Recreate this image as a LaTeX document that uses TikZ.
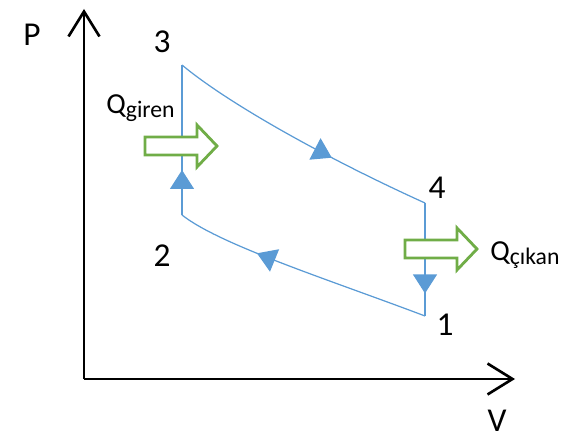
\documentclass[tikz,border=0pt]{standalone}
\usepackage{fontspec}
\setmainfont{Carlito}
\usetikzlibrary{arrows.meta,decorations.markings}
\definecolor{qblue}{RGB}{91,155,213}
\definecolor{qgreen}{RGB}{112,173,71}
\newcommand{\Qs}[1]{{\fontsize{16.5}{18}\selectfont Q}\raisebox{-0.08cm}{\fontsize{13.5}{15}\selectfont #1}}

\begin{document}
\begin{tikzpicture}[x=0.02cm,y=-0.02cm,
 ax/.style={line width=1.5pt,-{Straight Barb[length=0.5cm,width=0.62cm]}},
 cyc/.style={qblue,line width=0.7pt},
 mk/.style={postaction={decorate},decoration={markings,
   mark=at position #1 with {\arrow{Triangle[length=0.38cm,width=0.48cm]}}}},
 lbl/.style={inner sep=0pt,font=\fontsize{19}{22}\selectfont},
 heat/.style={draw=qgreen,line width=1.6pt,fill=white},
 heatarr/.pic={\path[heat] (0,-9) -- (52,-9) -- (52,-21) -- (72,0) -- (52,21) -- (52,9) -- (0,9) -- cycle;}]
\useasboundingbox (0,0) rectangle (570,438);
% axes
\coordinate (O) at (84,379);
\coordinate (Ptop) at (84,9);
\coordinate (Vend) at (515,379);
\draw[ax] (O) -- (Ptop);
\draw[ax] (O) -- (Vend);
\node[lbl] (lP) at (32,35) {P};
\node[lbl] (lV) at (497,421) {V};
% cycle
\coordinate (c1) at (425,316);
\coordinate (c2) at (182,215);
\coordinate (c3) at (182,65);
\coordinate (c4) at (425,203);
\draw[cyc,mk=0.3] (c2) -- (c3);
\draw[cyc,mk=0.63] (c3) .. controls (230,105) and (330,160) .. (c4);
\draw[cyc,mk=0.8] (c4) -- (c1);
\draw[cyc,mk=0.68] (c1) .. controls (330,280) and (220,245) .. (c2);
\node[lbl] (l1) at (445,325) {1};
\node[lbl] (l2) at (162,256) {2};
\node[lbl] (l3) at (162,42) {3};
\node[lbl] (l4) at (437,188) {4};
% heat
\pic at (145,146) {heatarr};
\pic at (405,249) {heatarr};
\node[anchor=base west,inner sep=0pt] (qin) at (106,114) {\Qs{giren}};
\node[anchor=base west,inner sep=0pt] (qout) at (490,261) {\Qs{çıkan}};
\end{tikzpicture}
\end{document}
